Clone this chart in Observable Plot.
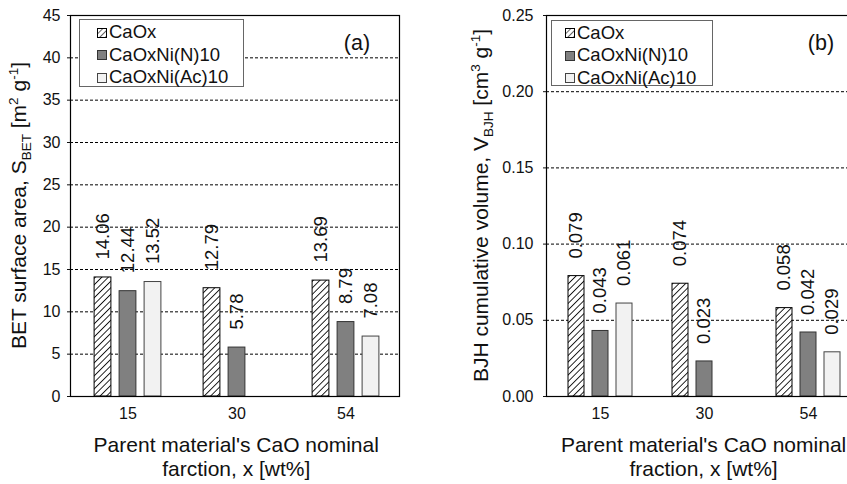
<!DOCTYPE html>
<html><head><meta charset="utf-8">
<script src="https://cdn.jsdelivr.net/npm/d3@7"></script>
<script src="https://cdn.jsdelivr.net/npm/@observablehq/plot@0.6"></script>
<style>
html,body{margin:0;padding:0;background:#fff;overflow:hidden;width:847px;height:484px;}
#wrap{position:relative;width:847px;height:484px;font-family:"Liberation Sans",Arial,sans-serif;overflow:hidden;}
.panel{position:absolute;top:0;height:484px;}
.panel svg{max-width:none !important;}
.legend{position:absolute;background:#fff;border:1px solid #666;box-sizing:border-box;font-size:18.5px;color:#111;font-family:"Liberation Sans",Arial,sans-serif;}
.legend .row{position:absolute;white-space:nowrap;line-height:1;height:20px;display:flex;align-items:center;}
</style>
</head><body>
<svg width="0" height="0" style="position:absolute">
 <defs>
  <pattern id="hatch" patternUnits="userSpaceOnUse" width="4.6" height="4.6" patternTransform="rotate(45)">
    <rect width="4.6" height="4.6" fill="white"/>
    <line x1="0" y1="0" x2="0" y2="4.6" stroke="black" stroke-width="1.7"/>
  </pattern>
  <pattern id="hatchsm" patternUnits="userSpaceOnUse" width="4" height="4" patternTransform="rotate(45)">
    <rect width="4" height="4" fill="white"/>
    <line x1="0" y1="0" x2="0" y2="4" stroke="black" stroke-width="1.2"/>
  </pattern>
 </defs>
</svg>
<div id="wrap"></div>
<script>
// ---- data ----
const groups = ["15", "30", "54"];
const series = ["CaOx", "CaOxNi(N)10", "CaOxNi(Ac)10"];
const betCaOx = [14.06, 12.79, 13.69];
const betNiN  = [12.44, 5.78, 8.79];
const betNiAc = [13.52, null, 7.08];
const bjhCaOx = [0.079, 0.074, 0.058];
const bjhNiN  = [0.043, 0.023, 0.042];
const bjhNiAc = [0.061, null, 0.029];
const betTicks = [0, 5, 10, 15, 20, 25, 30, 35, 40, 45];
const bjhTicks = [0, 0.05, 0.10, 0.15, 0.20, 0.25];

const fills = ["url(#hatch)", "#808080", "#f2f2f2"];
const strokes = ["#000", "#333", "#444"];
const FONT = "Liberation Sans, Arial, sans-serif";

function makePanel(cfg) {
  const rows = [];
  groups.forEach((g, i) => series.forEach((s, j) => {
    const v = cfg.values[j][i];
    if (v != null) rows.push({group: g, series: s, value: v});
  }));
  const marks = [
    Plot.ruleY(cfg.ticks.slice(1, -1), {stroke: "#000", strokeWidth: 1, strokeDasharray: "3,2"})
  ];
  series.forEach((s, j) => {
    const d = rows.filter(r => r.series === s);
    marks.push(Plot.barY(d, {x: "group", y: "value", fill: fills[j], stroke: strokes[j], strokeWidth: 1,
      insetLeft: cfg.inset, insetRight: cfg.inset, dx: cfg.offsets[j]}));
    marks.push(Plot.text(d, {x: "group", y: "value", text: r => r.value.toFixed(cfg.dec), rotate: -90,
      textAnchor: "start", dx: cfg.offsets[j], dy: -cfg.gap, fontSize: 18.5, fill: "#111"}));
  });
  marks.push(Plot.frame({stroke: "#000", strokeWidth: 1.2}));
  const svg = Plot.plot({
    width: cfg.width, height: 484,
    marginTop: 15, marginBottom: 88, marginLeft: cfg.ml, marginRight: cfg.mr,
    style: {fontSize: "16px", fontFamily: FONT, color: "#111", background: "transparent", overflow: "visible", maxWidth: "none"},
    x: {domain: groups, range: cfg.xrange, padding: 0, tickSize: 0, tickPadding: 11, label: null},
    y: {domain: [cfg.ticks[0], cfg.ticks[cfg.ticks.length - 1]], ticks: cfg.ticks, tickFormat: cfg.fmt,
        tickSize: 3, tickPadding: cfg.tp, label: null},
    marks
  });
  svg.style.maxWidth = "none";
  svg.style.width = cfg.width + "px";
  svg.style.height = "484px";
  const s = d3.select(svg);
  // y title
  const yt = s.append("text").attr("transform", `translate(${cfg.ytx},205.5) rotate(-90)`)
    .attr("text-anchor", "middle").attr("font-size", 21).attr("fill", "#111").attr("font-family", FONT);
  cfg.ytitle.forEach(p => {
    const ts = yt.append("tspan").text(p.t);
    if (p.k === "sub") ts.attr("font-size", 13.5).attr("dy", 5);
    else if (p.k === "sup") ts.attr("font-size", 13.5).attr("dy", -8);
    else if (p.k === "back-sub") ts.attr("dy", -5);
    else if (p.k === "back-sup") ts.attr("dy", 8);
  });
  // x title
  const cx = (cfg.xrange[0] + cfg.xrange[1]) / 2;
  cfg.xtitle.forEach((line, k) => {
    s.append("text").attr("x", cx).attr("y", 452 + k * 24).attr("text-anchor", "middle")
      .attr("font-size", 21).attr("fill", "#111").attr("font-family", FONT).text(line);
  });
  // panel tag
  s.append("text").attr("x", cfg.tagx).attr("y", 50).attr("text-anchor", "middle")
    .attr("font-size", 21.5).attr("fill", "#111").attr("font-family", FONT).text(cfg.tag);
  return svg;
}

function makeLegend(box) {
  const lg = document.createElement("div");
  lg.className = "legend";
  Object.assign(lg.style, {left: box.x + "px", top: box.y + "px", width: box.w + "px", height: box.h + "px"});
  series.forEach((s, j) => {
    const row = document.createElement("div");
    row.className = "row";
    row.style.left = box.sx + "px";
    row.style.top = (box.r0 + j * 22.5 - 10) + "px";
    const sw = document.createElementNS("http://www.w3.org/2000/svg", "svg");
    sw.setAttribute("width", 10); sw.setAttribute("height", 10);
    sw.style.marginRight = "2px";
    const r = document.createElementNS("http://www.w3.org/2000/svg", "rect");
    r.setAttribute("x", 0.5); r.setAttribute("y", 0.5); r.setAttribute("width", 9); r.setAttribute("height", 9);
    r.setAttribute("fill", j === 0 ? "url(#hatchsm)" : fills[j]);
    r.setAttribute("stroke", strokes[j]); r.setAttribute("stroke-width", 1);
    sw.appendChild(r);
    row.appendChild(sw);
    const t = document.createElement("span");
    t.textContent = s;
    row.appendChild(t);
    lg.appendChild(row);
  });
  return lg;
}

const wrap = document.getElementById("wrap");

const left = document.createElement("div");
left.className = "panel"; left.style.left = "0px"; left.style.width = "420px";
left.appendChild(makePanel({
  values: [betCaOx, betNiN, betNiAc], ticks: betTicks, fmt: d => String(d), dec: 2,
  width: 420, ml: 70, mr: 21, xrange: [72.5, 400], inset: 46.1, offsets: [-25, 0, 25], gap: 18, tp: 7,
  ytx: 26,
  ytitle: [{t: "BET surface area, S"}, {t: "BET", k: "sub"}, {t: " [m", k: "back-sub"}, {t: "2", k: "sup"},
           {t: " g", k: "back-sup"}, {t: "-1", k: "sup"}, {t: "]", k: "back-sup"}],
  xtitle: ["Parent material's CaO nominal", "farction, x [wt%]"],
  tag: "(a)", tagx: 357
}));
wrap.appendChild(left);
wrap.appendChild(makeLegend({x: 79, y: 19, w: 165, h: 68, sx: 17, r0: 12.5}));

const right = document.createElement("div");
right.className = "panel"; right.style.left = "420px"; right.style.width = "460px";
right.appendChild(makePanel({
  values: [bjhCaOx, bjhNiN, bjhNiAc], ticks: bjhTicks, fmt: d => d.toFixed(2), dec: 3,
  width: 460, ml: 126, mr: 19, xrange: [126.5, 440.7], inset: 44, offsets: [-24, 0, 24], gap: 17.5, tp: 10,
  ytx: 68,
  ytitle: [{t: "BJH cumulative volume, V"}, {t: "BJH", k: "sub"}, {t: " [cm", k: "back-sub"}, {t: "3", k: "sup"},
           {t: " g", k: "back-sup"}, {t: "-1", k: "sup"}, {t: "]", k: "back-sup"}],
  xtitle: ["Parent material's CaO nominal", "fraction, x [wt%]"],
  tag: "(b)", tagx: 401
}));
wrap.appendChild(right);
wrap.appendChild(makeLegend({x: 551, y: 20, w: 162, h: 66, sx: 13, r0: 12}));
</script>
</body></html>
